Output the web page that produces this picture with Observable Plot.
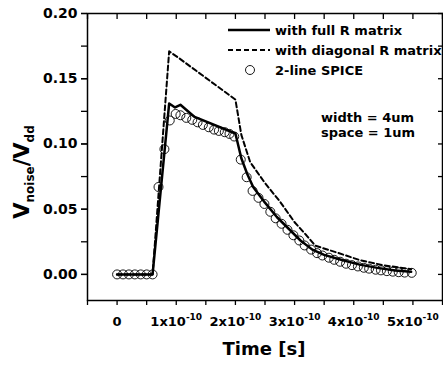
<!DOCTYPE html>
<html><head><meta charset="utf-8">
<script src="https://cdn.jsdelivr.net/npm/d3@7"></script>
<script src="https://cdn.jsdelivr.net/npm/@observablehq/plot@0.6"></script>
<style>
body{margin:0;background:#fff}
svg{font-family:"DejaVu Sans",sans-serif;font-weight:bold}
</style>
</head><body><div id="chart"></div>
<script>
// Time in units of 1e-10 s
const spiceT = [0,0.1,0.2,0.3,0.4,0.5,0.6,0.7,0.8,0.89,0.99,1.07,1.17,1.27,1.36,1.45,1.55,1.64,1.72,1.82,1.9,1.98,
  2.09,2.19,2.29,2.39,2.49,2.59,2.68,2.78,2.88,2.98,3.08,3.17,3.28,3.38,3.47,3.58,3.67,3.77,3.87,3.97,4.07,4.17,4.26,4.37,4.46,4.56,4.66,4.76,4.86,4.98];
const spiceV = [0,0,0,0,0,0,0,0.067,0.096,0.118,0.123,0.122,0.120,0.1185,0.1166,0.1146,0.1128,0.111,0.110,0.109,0.1077,0.1057,
  0.088,0.0745,0.064,0.0587,0.054,0.048,0.043,0.0388,0.0342,0.030,0.026,0.0222,0.019,0.0163,0.0145,0.0128,0.0112,0.0097,0.0082,0.0071,0.0061,0.0051,0.0044,0.0036,0.0031,0.0025,0.0021,0.0017,0.0014,0.0012];
const fullT = [0,0.6,0.88,0.98,1.07,1.3,2.0,2.1,2.2,2.3,2.5,2.7,2.9,3.1,3.3,3.5,3.8,4.1,4.4,4.7,4.97];
const fullV = [0,0,0.131,0.128,0.130,0.121,0.108,0.089,0.077,0.067,0.055,0.044,0.035,0.026,0.019,0.015,0.011,0.0075,0.005,0.003,0.002];
const diagT = [0,0.6,0.88,1.04,2.0,2.1,2.25,2.5,2.75,3.0,3.2,3.35,3.7,4.1,4.5,4.97];
const diagV = [0,0,0.171,0.166,0.134,0.107,0.086,0.070,0.056,0.040,0.030,0.022,0.017,0.011,0.007,0.004];
const xTickValues = [0,1,2,3,4,5];
const yTickValues = [0,0.05,0.10,0.15,0.20];
const seriesNames = ["with full R matrix","with diagonal R matrix","2-line SPICE"];
const annotations = ["width = 4um","space = 1um"];

const spice = spiceT.map((t,i)=>({t, v:spiceV[i]}));
const full = fullT.map((t,i)=>({t, v:fullV[i]}));
const diag = diagT.map((t,i)=>({t, v:diagV[i]}));

const minorX = d3.range(-0.5,5.51,0.5);
const minorY = d3.range(0,0.2001,0.025);

const plot = Plot.plot({
  width:443, height:368,
  marginLeft:87, marginRight:1, marginTop:13, marginBottom:68,
  style:{fontFamily:'"DejaVu Sans",sans-serif', fontWeight:"bold", fontSize:"13px", background:"white", color:"black"},
  x:{domain:[-0.5,5.5]},
  y:{domain:[-0.02,0.20]},
  marks:[
    Plot.axisX({anchor:"bottom", ticks:minorX, tickSize:5, tickFormat:()=>"", label:null, strokeWidth:1.3}),
    Plot.axisX({anchor:"bottom", ticks:xTickValues, tickSize:0, tickPadding:16, tickFormat:d=> d===0 ? "0" : `${d}x10^-10`, label:null, fontSize:13}),
    Plot.axisX({anchor:"top", ticks:minorX, tickSize:-5, tickFormat:()=>"", label:null, strokeWidth:1.3}),
    Plot.axisY({anchor:"left", ticks:minorY, tickSize:6, tickFormat:()=>"", label:null, strokeWidth:1.3}),
    Plot.axisY({anchor:"left", ticks:yTickValues, tickSize:6, tickPadding:4, tickFormat:d3.format(".2f"), label:null, fontSize:14, strokeWidth:1.3}),
    Plot.axisY({anchor:"right", ticks:minorY, tickSize:-5, tickFormat:()=>"", label:null, strokeWidth:1.3}),
    Plot.frame({stroke:"black", strokeWidth:1.5}),
    Plot.dot(spice, {x:"t", y:"v", r:4.5, stroke:"black", strokeWidth:0.9, fill:"none"}),
    Plot.line(diag, {x:"t", y:"v", stroke:"black", strokeWidth:2, strokeDasharray:"5,3"}),
    Plot.line(full, {x:"t", y:"v", stroke:"black", strokeWidth:2.5})
  ]
});
document.getElementById("chart").appendChild(plot);

const svg = d3.select(plot);
// superscripts in x tick labels
svg.selectAll('g[aria-label="x-axis tick label"] text').each(function(){
  const s = this.textContent;
  if (s.includes("^")) {
    const [base, sup] = s.split("^");
    const el = d3.select(this);
    el.text(null);
    el.append("tspan").text(base);
    el.append("tspan").attr("dy","-6").attr("font-size","9").text(sup);
  }
});

// axis titles
const yl = svg.append("text")
  .attr("transform","translate(29,172) rotate(-90)")
  .attr("text-anchor","middle").attr("font-size",21).attr("font-weight","bold").attr("fill","black");
yl.append("tspan").text("V");
yl.append("tspan").attr("dy",5).attr("font-size",12).text("noise");
yl.append("tspan").attr("dy",-5).text("/V");
yl.append("tspan").attr("dy",5).attr("font-size",12).text("dd");

svg.append("text").attr("x",264).attr("y",355).attr("text-anchor","middle")
  .attr("font-size",18).attr("font-weight","bold").attr("fill","black").text("Time [s]");

// legend
const lg = svg.append("g").attr("font-size",13).attr("font-weight","bold").attr("fill","black").attr("text-anchor","start");
const rowsY = [30,50,70];
lg.append("line").attr("x1",228).attr("x2",270).attr("y1",rowsY[0]).attr("y2",rowsY[0]).attr("stroke","black").attr("stroke-width",2.5);
lg.append("line").attr("x1",228).attr("x2",270).attr("y1",rowsY[1]).attr("y2",rowsY[1]).attr("stroke","black").attr("stroke-width",2).attr("stroke-dasharray","5,3");
lg.append("circle").attr("cx",250).attr("cy",rowsY[2]).attr("r",4.5).attr("fill","none").attr("stroke","black").attr("stroke-width",0.9);
seriesNames.forEach((n,i)=>{
  lg.append("text").attr("x",275).attr("y",rowsY[i]).attr("dy","0.35em").text(n);
});
annotations.forEach((a,i)=>{
  lg.append("text").attr("x",321).attr("y",117+i*15).attr("dy","0.35em").text(a);
});
</script>
</body></html>
